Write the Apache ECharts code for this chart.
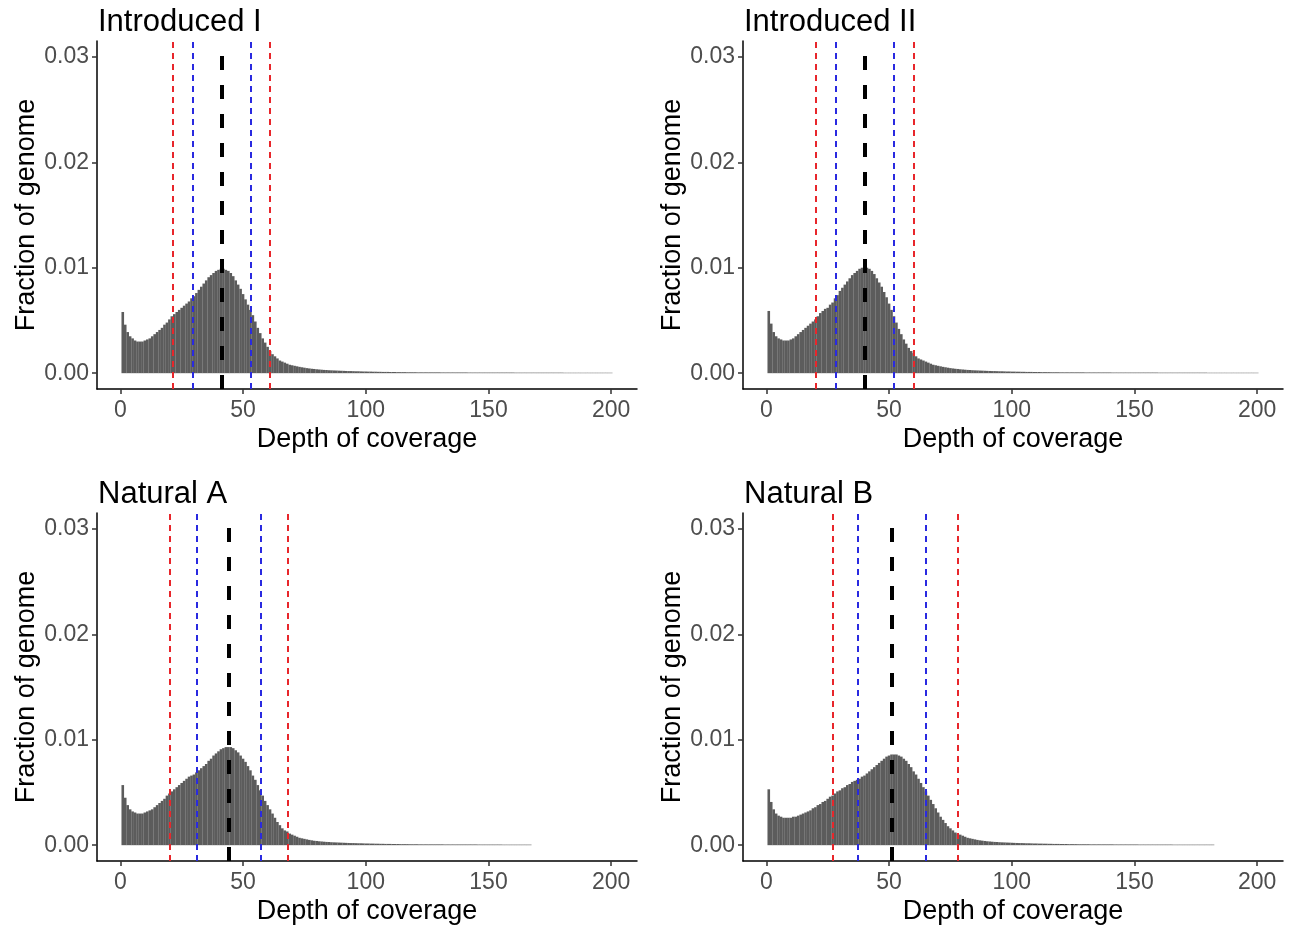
<!DOCTYPE html>
<html>
<head>
<meta charset="utf-8">
<script src="https://cdn.jsdelivr.net/npm/echarts@6/dist/echarts.min.js"></script>
<style>
html, body { margin: 0; padding: 0; background: #fff; }
#chart { width: 1291px; height: 931px; }
</style>
</head>
<body>
<div id="chart"></div>
<script>
// depth of coverage histograms, one value per depth starting at 1
const panelTitles = ['Introduced I', 'Introduced II', 'Natural A', 'Natural B']

const introducedI = [
  0.0058, 0.0046, 0.0039, 0.0035, 0.0033, 0.0031, 0.0030, 0.0030, 0.0030, 0.0031,
  0.0032, 0.0033, 0.0035, 0.0037, 0.0039, 0.0041, 0.0043, 0.0046, 0.0048, 0.0051,
  0.0054, 0.0056, 0.0058, 0.0060, 0.0062, 0.0064, 0.0066, 0.0068, 0.0071, 0.0073,
  0.0076, 0.0079, 0.0082, 0.0085, 0.0088, 0.0091, 0.0093, 0.0095, 0.0097, 0.0098,
  0.0099, 0.0099, 0.0098, 0.0097, 0.0095, 0.0092, 0.0088, 0.0084, 0.0080, 0.0075,
  0.0070, 0.0065, 0.0060, 0.0055, 0.0049, 0.0043, 0.0038, 0.0033, 0.0029, 0.0025,
  0.0021, 0.0018, 0.0016, 0.0014, 0.0012, 0.0011, 0.0010, 0.0009, 0.0008, 0.00075,
  0.0007, 0.00065, 0.0006, 0.00056, 0.00052, 0.00048, 0.00045, 0.00042, 0.0004, 0.00037,
  0.00035, 0.00033, 0.00031, 0.0003, 0.00028, 0.00027, 0.00026, 0.00025, 0.00024, 0.00023,
  0.00022, 0.00021, 0.0002, 0.0002, 0.00019, 0.00018, 0.00018, 0.00017, 0.00016, 0.00016,
  0.00015, 0.00015, 0.00014, 0.00014, 0.00013, 0.00013, 0.00012, 0.00012, 0.00012, 0.00011,
  0.00011, 0.00011, 1e-4, 1e-4, 1e-4, 1e-4, 9e-5, 9e-5, 9e-5, 9e-5,
  8e-5, 8e-5, 8e-5, 8e-5, 8e-5, 8e-5, 8e-5, 8e-5, 8e-5, 8e-5,
  7e-5, 7e-5, 7e-5, 7e-5, 7e-5, 7e-5, 7e-5, 7e-5, 7e-5, 7e-5,
  7e-5, 6e-5, 6e-5, 6e-5, 6e-5, 6e-5, 6e-5, 6e-5, 6e-5, 6e-5,
  6e-5, 6e-5, 6e-5, 6e-5, 6e-5, 6e-5, 6e-5, 6e-5, 6e-5, 6e-5,
  5e-5, 5e-5, 5e-5, 5e-5, 5e-5, 5e-5, 5e-5, 5e-5, 5e-5, 5e-5,
  5e-5, 5e-5, 5e-5, 5e-5, 5e-5, 5e-5, 5e-5, 5e-5, 5e-5, 5e-5,
  4e-5, 4e-5, 4e-5, 4e-5, 4e-5, 4e-5, 4e-5, 4e-5, 4e-5, 4e-5,
  4e-5, 4e-5, 4e-5, 4e-5, 4e-5, 4e-5, 4e-5, 4e-5, 4e-5, 4e-5
]

const introducedII = [
  0.0059, 0.0047, 0.0039, 0.0035, 0.0033, 0.0032, 0.0031, 0.0031, 0.0031, 0.0032,
  0.0033, 0.0035, 0.0037, 0.0039, 0.0041, 0.0043, 0.0045, 0.0047, 0.0049, 0.0051,
  0.0054, 0.0057, 0.0059, 0.0061, 0.0062, 0.0065, 0.0067, 0.0071, 0.0074, 0.0078,
  0.0081, 0.0084, 0.0087, 0.0090, 0.0093, 0.0095, 0.0097, 0.0099, 0.0100, 0.0101,
  0.0100, 0.0099, 0.0097, 0.0094, 0.0090, 0.0086, 0.0082, 0.0077, 0.0072, 0.0066,
  0.0060, 0.0054, 0.0048, 0.0042, 0.0037, 0.0032, 0.0028, 0.0024, 0.0021, 0.0019,
  0.0016, 0.0014, 0.0013, 0.0012, 0.0011, 0.0010, 0.0009, 0.0008, 0.00075, 0.0007,
  0.00065, 0.0006, 0.00056, 0.00052, 0.00048, 0.00045, 0.00042, 0.0004, 0.00037, 0.00035,
  0.00033, 0.00031, 0.0003, 0.00028, 0.00027, 0.00026, 0.00025, 0.00024, 0.00023, 0.00022,
  0.00021, 0.0002, 0.0002, 0.00019, 0.00018, 0.00018, 0.00017, 0.00016, 0.00016, 0.00015,
  0.00015, 0.00014, 0.00014, 0.00013, 0.00013, 0.00012, 0.00012, 0.00012, 0.00011, 0.00011,
  0.00011, 1e-4, 1e-4, 1e-4, 1e-4, 9e-5, 9e-5, 9e-5, 9e-5, 8e-5,
  8e-5, 8e-5, 8e-5, 8e-5, 8e-5, 8e-5, 8e-5, 8e-5, 8e-5, 7e-5,
  7e-5, 7e-5, 7e-5, 7e-5, 7e-5, 7e-5, 7e-5, 7e-5, 7e-5, 7e-5,
  6e-5, 6e-5, 6e-5, 6e-5, 6e-5, 6e-5, 6e-5, 6e-5, 6e-5, 6e-5,
  6e-5, 6e-5, 6e-5, 6e-5, 6e-5, 6e-5, 6e-5, 6e-5, 6e-5, 5e-5,
  5e-5, 5e-5, 5e-5, 5e-5, 5e-5, 5e-5, 5e-5, 5e-5, 5e-5, 5e-5,
  5e-5, 5e-5, 5e-5, 5e-5, 5e-5, 5e-5, 5e-5, 5e-5, 5e-5, 4e-5,
  4e-5, 4e-5, 4e-5, 4e-5, 4e-5, 4e-5, 4e-5, 4e-5, 4e-5, 4e-5,
  4e-5, 4e-5, 4e-5, 4e-5, 4e-5, 4e-5, 4e-5, 4e-5, 4e-5, 4e-5
]

const naturalA = [
  0.0057, 0.0045, 0.0038, 0.0034, 0.0032, 0.0031, 0.0030, 0.0030, 0.0030, 0.0031,
  0.0032, 0.0033, 0.0034, 0.0036, 0.0038, 0.0040, 0.0042, 0.0044, 0.0047, 0.0049,
  0.0051, 0.0053, 0.0055, 0.0057, 0.0059, 0.0061, 0.0063, 0.0065, 0.0066, 0.0067,
  0.0069, 0.0071, 0.0073, 0.0075, 0.0077, 0.0080, 0.0082, 0.0085, 0.0087, 0.0089,
  0.0091, 0.0092, 0.0093, 0.0093, 0.0093, 0.0092, 0.0090, 0.0088, 0.0085, 0.0082,
  0.0079, 0.0075, 0.0071, 0.0066, 0.0062, 0.0057, 0.0052, 0.0047, 0.0042, 0.0038,
  0.0034, 0.0030, 0.0026, 0.0022, 0.0019, 0.0016, 0.0014, 0.0013, 0.0011, 0.0010,
  0.0009, 0.0008, 0.0007, 0.00065, 0.0006, 0.00055, 0.0005, 0.00046, 0.00042, 0.0004,
  0.00037, 0.00035, 0.00033, 0.00031, 0.0003, 0.00028, 0.00027, 0.00026, 0.00025, 0.00024,
  0.00023, 0.00022, 0.00021, 0.0002, 0.0002, 0.00019, 0.00018, 0.00018, 0.00017, 0.00016,
  0.00016, 0.00015, 0.00015, 0.00014, 0.00014, 0.00013, 0.00013, 0.00012, 0.00012, 0.00012,
  0.00011, 0.00011, 0.00011, 1e-4, 1e-4, 1e-4, 1e-4, 9e-5, 9e-5, 9e-5,
  9e-5, 8e-5, 8e-5, 8e-5, 8e-5, 8e-5, 8e-5, 8e-5, 8e-5, 8e-5,
  8e-5, 7e-5, 7e-5, 7e-5, 7e-5, 7e-5, 7e-5, 7e-5, 7e-5, 7e-5,
  7e-5, 7e-5, 7e-5, 7e-5, 7e-5, 6e-5, 6e-5, 6e-5, 6e-5, 6e-5,
  6e-5, 6e-5, 6e-5, 6e-5, 6e-5, 5e-5, 5e-5, 5e-5, 5e-5, 5e-5,
  5e-5, 5e-5, 5e-5, 5e-5, 5e-5, 5e-5, 5e-5
]

const naturalB = [
  0.0053, 0.0041, 0.0034, 0.0030, 0.0028, 0.0027, 0.0026, 0.0026, 0.0026, 0.0026,
  0.0027, 0.0027, 0.0028, 0.0029, 0.0030, 0.0031, 0.0032, 0.0033, 0.0035, 0.0036,
  0.0038, 0.0039, 0.0041, 0.0042, 0.0044, 0.0046, 0.0047, 0.0049, 0.0051, 0.0052,
  0.0054, 0.0055, 0.0057, 0.0058, 0.0060, 0.0061, 0.0062, 0.0063, 0.0065, 0.0066,
  0.0068, 0.0070, 0.0072, 0.0074, 0.0076, 0.0078, 0.0080, 0.0082, 0.0084, 0.0085,
  0.0086, 0.0086, 0.0086, 0.0085, 0.0084, 0.0082, 0.0080, 0.0077, 0.0074, 0.0070,
  0.0067, 0.0063, 0.0059, 0.0055, 0.0051, 0.0047, 0.0043, 0.0039, 0.0035, 0.0031,
  0.0027, 0.0024, 0.0021, 0.0018, 0.0016, 0.0014, 0.0012, 0.0011, 0.0010, 0.0009,
  0.0008, 0.0007, 0.00065, 0.0006, 0.00055, 0.0005, 0.00046, 0.00043, 0.0004, 0.00037,
  0.00035, 0.00033, 0.00031, 0.0003, 0.00028, 0.00027, 0.00026, 0.00025, 0.00024, 0.00023,
  0.00022, 0.00021, 0.0002, 0.0002, 0.00019, 0.00018, 0.00018, 0.00017, 0.00016, 0.00016,
  0.00015, 0.00015, 0.00014, 0.00014, 0.00013, 0.00013, 0.00012, 0.00012, 0.00012, 0.00011,
  0.00011, 0.00011, 1e-4, 1e-4, 1e-4, 1e-4, 9e-5, 9e-5, 9e-5, 9e-5,
  9e-5, 8e-5, 8e-5, 8e-5, 8e-5, 8e-5, 8e-5, 8e-5, 8e-5, 8e-5,
  8e-5, 7e-5, 7e-5, 7e-5, 7e-5, 7e-5, 7e-5, 7e-5, 7e-5, 7e-5,
  7e-5, 6e-5, 6e-5, 6e-5, 6e-5, 6e-5, 6e-5, 6e-5, 6e-5, 6e-5,
  6e-5, 6e-5, 6e-5, 6e-5, 6e-5, 5e-5, 5e-5, 5e-5, 5e-5, 5e-5,
  5e-5, 5e-5, 5e-5, 5e-5, 5e-5, 5e-5, 5e-5, 5e-5, 5e-5, 5e-5,
  5e-5, 5e-5
]

// cut-offs drawn as dashed verticals
const meanDepth = [41.3, 40.1, 44, 51]
const blueCutoffs = [[29.4, 53.1], [28.2, 51.9], [31.3, 57.2], [37.1, 64.9]]
const redCutoffs = [[21.4, 61], [20.2, 59.9], [20.3, 68.2], [27, 77.8]]

const xTicks = [0, 50, 100, 150, 200]
const yTicks = [0, 0.01, 0.02, 0.03]

const panelData = [introducedI, introducedII, naturalA, naturalB]

const chart = echarts.init(document.getElementById('chart'))

const font = 'Liberation Sans, Arial, sans-serif'
const gridPos = [
  { left: 97, top: 41 },
  { left: 743, top: 41 },
  { left: 97, top: 513 },
  { left: 743, top: 513 }
]

const grids = []
const xAxes = []
const yAxes = []
const titles = []
const series = []

panelTitles.forEach((name, i) => {
  grids.push({ left: gridPos[i].left, top: gridPos[i].top, width: 540, height: 348 })
  titles.push({
    text: name,
    left: gridPos[i].left + 1,
    top: gridPos[i].top - 34,
    padding: 0,
    textStyle: { fontFamily: font, fontSize: 31, fontWeight: 'normal', color: '#000' }
  })
  xAxes.push({
    type: 'value',
    gridIndex: i,
    min: -9.5,
    max: 210.5,
    name: 'Depth of coverage',
    nameLocation: 'middle',
    nameGap: 37,
    nameTextStyle: { fontFamily: font, fontSize: 27, color: '#000' },
    axisLine: { onZero: false, lineStyle: { color: '#000', width: 1.5 } },
    axisTick: { customValues: xTicks, length: 5, lineStyle: { color: '#333', width: 1.5 } },
    axisLabel: { customValues: xTicks, margin: 10, fontFamily: font, fontSize: 23, color: '#4d4d4d' },
    splitLine: { show: false }
  })
  yAxes.push({
    type: 'value',
    gridIndex: i,
    min: -0.0015,
    max: 0.0315,
    name: 'Fraction of genome',
    nameLocation: 'middle',
    nameGap: 56,
    nameTextStyle: { fontFamily: font, fontSize: 27, color: '#000' },
    axisLine: { onZero: false, lineStyle: { color: '#000', width: 1.5 } },
    axisTick: { customValues: yTicks, length: 5, lineStyle: { color: '#333', width: 1.5 } },
    axisLabel: {
      customValues: yTicks,
      margin: 8,
      fontFamily: font,
      fontSize: 23,
      color: '#4d4d4d',
      formatter: v => v.toFixed(2)
    },
    splitLine: { show: false }
  })

  const dashed = (v, color, width, dash) => ({
    xAxis: v,
    lineStyle: { color, width, type: dash }
  })
  series.push({
    type: 'bar',
    xAxisIndex: i,
    yAxisIndex: i,
    barWidth: 2.6,
    itemStyle: { color: '#5c5c5c' },
    data: panelData[i].map((v, k) => [k + 1, v]),
    markLine: {
      silent: true,
      symbol: ['none', 'none'],
      label: { show: false },
      data: [
        dashed(redCutoffs[i][0], '#e8262b', 2, [6, 5]),
        dashed(redCutoffs[i][1], '#e8262b', 2, [6, 5]),
        dashed(blueCutoffs[i][0], '#2a2ae0', 2, [6, 5]),
        dashed(blueCutoffs[i][1], '#2a2ae0', 2, [6, 5]),
        dashed(meanDepth[i], '#000000', 4, [14, 15])
      ]
    }
  })
})

chart.setOption({
  backgroundColor: '#ffffff',
  animation: false,
  title: titles,
  grid: grids,
  xAxis: xAxes,
  yAxis: yAxes,
  series
})
</script>
</body>
</html>
